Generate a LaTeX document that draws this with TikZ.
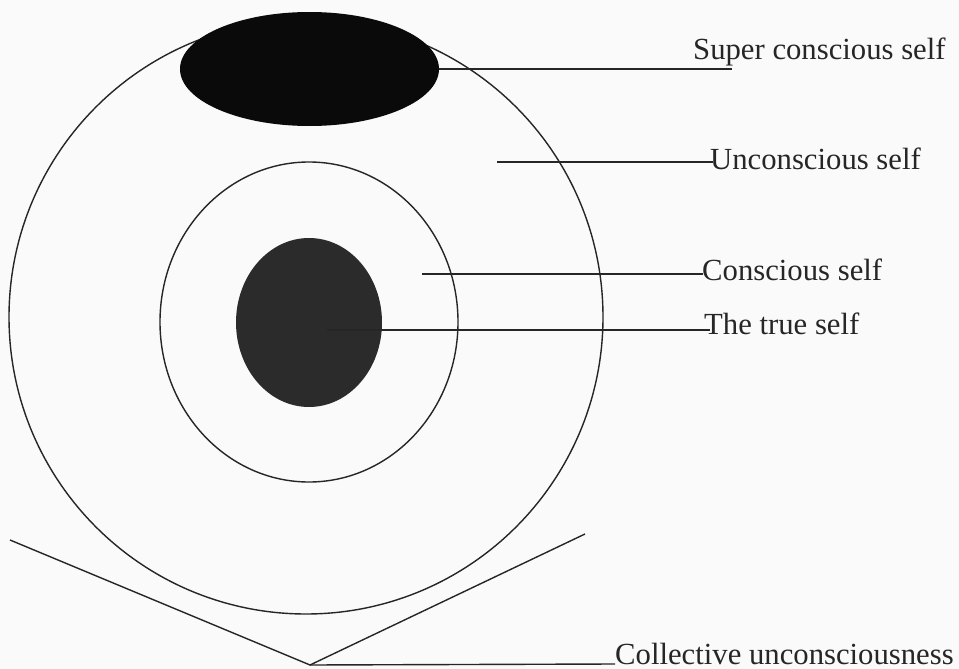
\documentclass[tikz,border=0pt]{standalone}
\usepackage{fontspec}
\setmainfont{Liberation Serif}
\usetikzlibrary{shapes.geometric}
\begin{document}
\begin{tikzpicture}[x=1pt,y=-1pt,
  ring/.style={ellipse, draw=black!85, line width=1.4pt, inner sep=0pt, outer sep=0pt},
  blob/.style={ellipse, draw=none, inner sep=0pt, outer sep=0pt},
  lead/.style={draw=black!85, line width=1.4pt},
  lbl/.style={anchor=base west, inner sep=0pt, text=black!85, font=\fontsize{30.7}{36}\selectfont}]
\fill[black!2] (0,0) rectangle (959,669);
\useasboundingbox (0,0) rectangle (959,669);
% shapes
\node[ring, minimum width=594pt, minimum height=594pt] (outer) at (306,317) {};
\node[blob, fill=black!96, minimum width=259pt, minimum height=114pt] (supers) at (309.5,69) {};
\node[ring, minimum width=298pt, minimum height=320pt] (inner) at (309,322) {};
\node[blob, fill=black!83, minimum width=146pt, minimum height=169pt] (core) at (309,322.5) {};
% labels
\node[lbl] (lsuper) at (693,60) {Super conscious self};
\node[lbl] (lunc) at (710,169) {Unconscious self};
\node[lbl] (lcon) at (702,280) {Conscious self};
\node[lbl] (ltrue) at (704,334) {The true self};
\node[lbl] (lcoll) at (615,664) {Collective unconsciousness};
% connector ends
\coordinate (superEnd) at (732,69);
\coordinate (uncStart) at (497,162);
\coordinate (uncEnd) at (713,162);
\coordinate (conStart) at (422,274);
\coordinate (conEnd) at (703,274);
\coordinate (trueStart) at (327,330);
\coordinate (trueEnd) at (710,330);
\coordinate (vLeft) at (10,540);
\coordinate (vTip) at (310,665);
\coordinate (vRight) at (585,534);
\coordinate (collEnd) at (615,664);
% connectors
\draw[lead] (supers.east) -- (superEnd);
\draw[lead] (uncStart) -- (uncEnd);
\draw[lead] (conStart) -- (conEnd);
\draw[lead] (trueStart) -- (trueEnd);
\draw[lead, line join=miter] (vLeft) -- (vTip) -- (vRight);
\draw[lead] (vTip) -- (collEnd);
\end{tikzpicture}
\end{document}
